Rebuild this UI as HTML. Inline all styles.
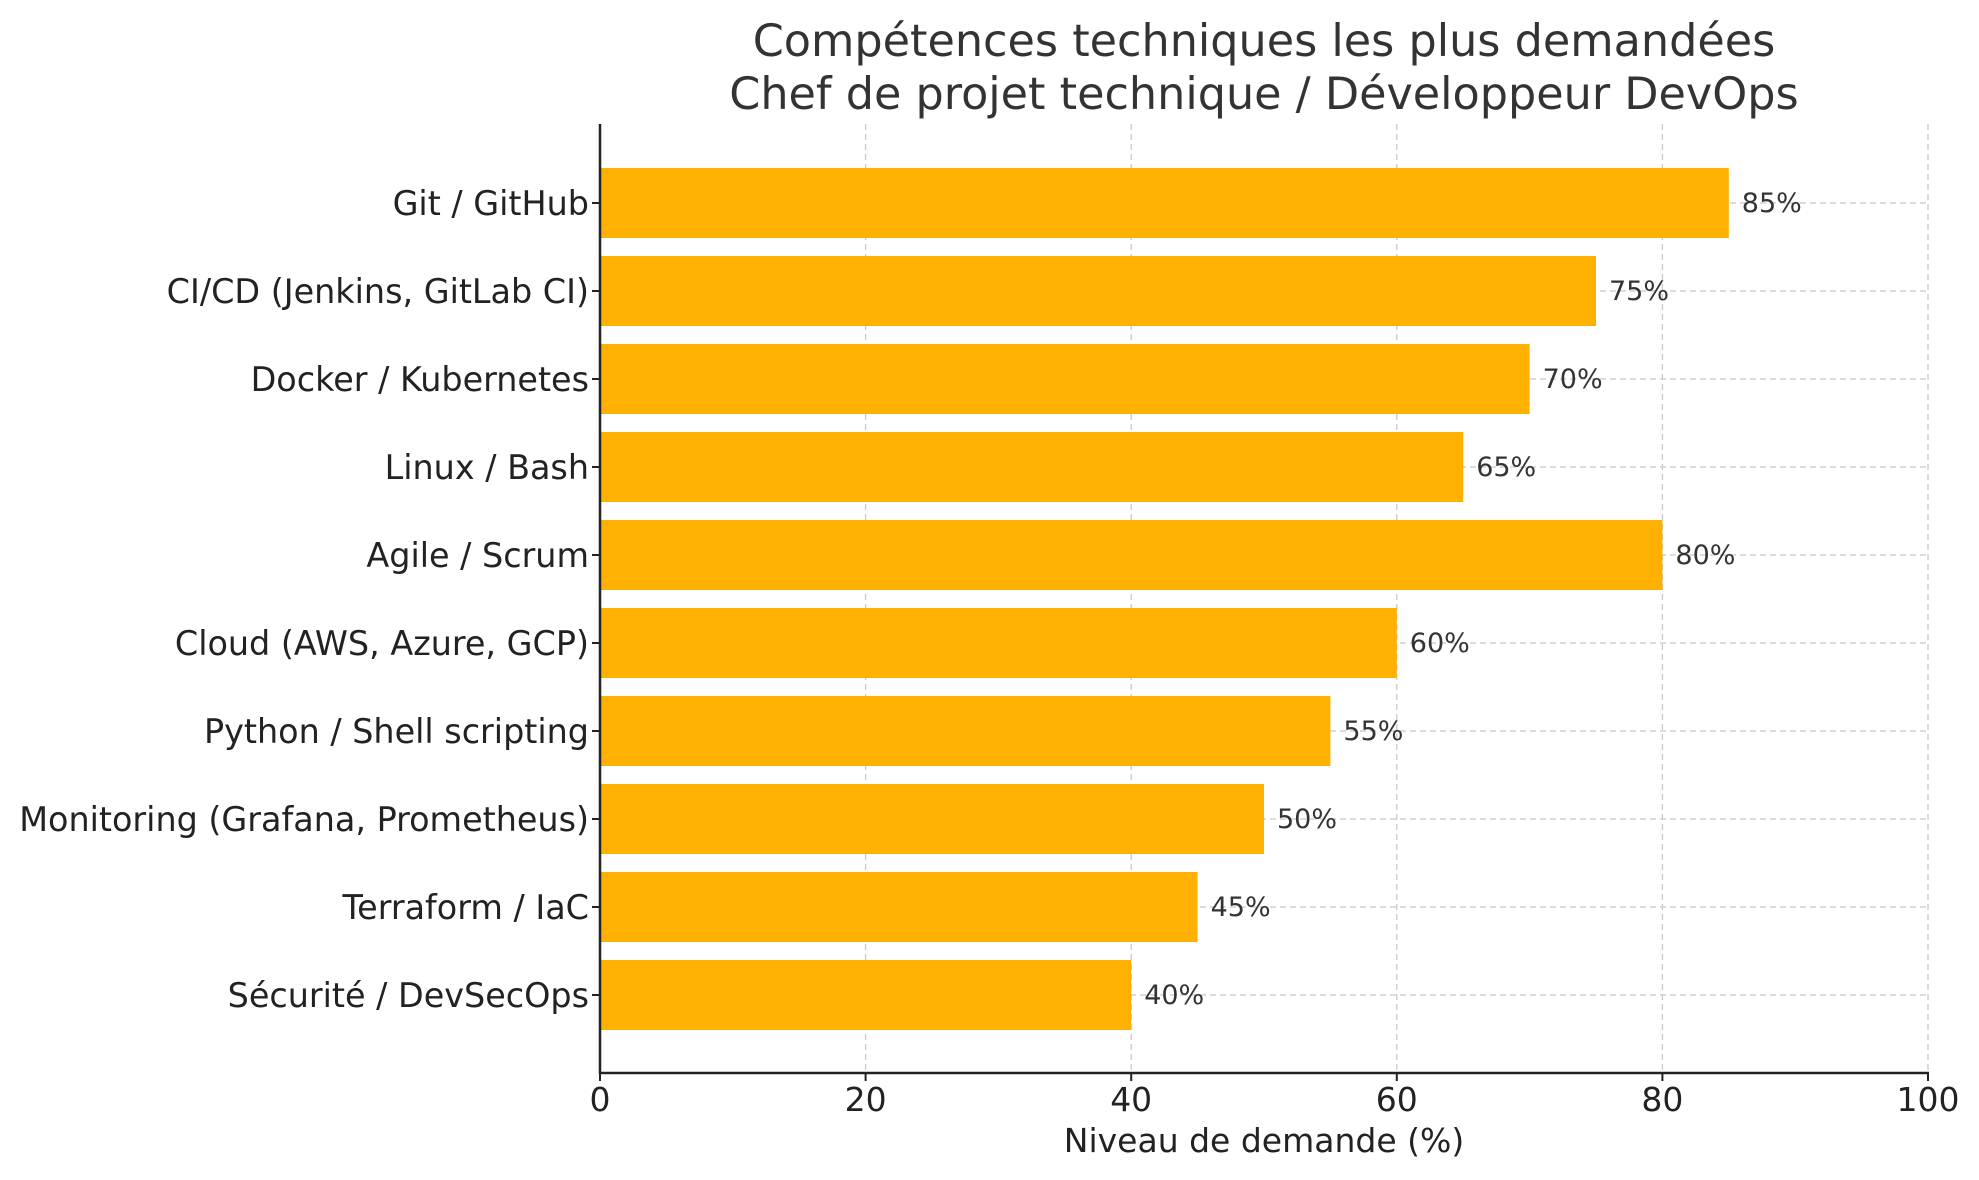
<!DOCTYPE html>
<html><head><meta charset="utf-8"><style>
html,body{margin:0;padding:0;background:#fff;}
svg{display:block;font-family:"DejaVu Sans","Liberation Sans",sans-serif;}
</style></head><body>
<svg id="chart" width="1979" height="1180">
<text x="1264" y="56" font-size="44.5" fill="#333" text-anchor="middle">Compétences techniques les plus demandées</text>
<text x="1264" y="109" font-size="44.5" fill="#333" text-anchor="middle">Chef de projet technique / Développeur DevOps</text>
<g id="grid"></g>
<g id="bars"></g>
<g id="axes"></g>
<text x="1264" y="1152" font-size="33" fill="#222" text-anchor="middle">Niveau de demande (%)</text>
</svg>
<script>
const categories = ["Git / GitHub","CI/CD (Jenkins, GitLab CI)","Docker / Kubernetes","Linux / Bash","Agile / Scrum","Cloud (AWS, Azure, GCP)","Python / Shell scripting","Monitoring (Grafana, Prometheus)","Terraform / IaC","Sécurité / DevSecOps"];
const values = [85,75,70,65,80,60,55,50,45,40];
const xTicks = [0,20,40,60,80,100];

const NS="http://www.w3.org/2000/svg";
const x0=600, x1=1928, yTop=124, yBot=1073, first=203, step=88.0, barH=70;
const xScale=v=>x0+(v/100)*(x1-x0);
const yScale=i=>first+i*step;
function mk(tag,attrs,parent){const e=document.createElementNS(NS,tag);for(const k in attrs)e.setAttribute(k,attrs[k]);parent.appendChild(e);return e;}
const grid=document.getElementById('grid'),bars=document.getElementById('bars'),axes=document.getElementById('axes');
xTicks.forEach(t=>{
  const x=xScale(t);
  const g=mk('line',{x1:x,x2:x,y1:yTop,y2:yBot,stroke:'#c8c8c8','stroke-width':1.3,'stroke-dasharray':'6,4'},grid);
  
  
  const tk=mk('line',{x1:x,x2:x,y1:yBot,y2:yBot+8,stroke:'#222','stroke-width':2},axes);
  
  
  const tl=mk('text',{x:x,y:yBot+38,'font-size':33,fill:'#222','text-anchor':'middle'},axes);
  tl.textContent=t;
  
  
});
categories.forEach((c,i)=>{
  const y=yScale(i);
  const g=mk('line',{x1:x0,x2:x1,y1:y,y2:y,stroke:'#c8c8c8','stroke-width':1.3,'stroke-dasharray':'6,4'},grid);
  
  
  const r=mk('rect',{x:x0,y:y-barH/2,width:xScale(values[i])-x0,height:barH,fill:'#FFB000'},bars);
  
  
  const vl=mk('text',{x:xScale(values[i])+13,y:y+9,'font-size':27,fill:'#333'},bars);
  vl.textContent=values[i]+'%';
  
  
  const tk=mk('line',{x1:x0-8,x2:x0,y1:y,y2:y,stroke:'#222','stroke-width':2},axes);
  
  
  const tl=mk('text',{x:x0-11,y:y+12,'font-size':33.4,fill:'#222','text-anchor':'end'},axes);
  tl.textContent=c;
  
  
});
const la=mk('line',{x1:x0,x2:x0,y1:yTop,y2:yBot+1,stroke:'#222','stroke-width':2.5},axes);


const ba=mk('line',{x1:x0-1,x2:x1+1,y1:yBot,y2:yBot,stroke:'#222','stroke-width':2.5},axes);


</script>
</body></html>
